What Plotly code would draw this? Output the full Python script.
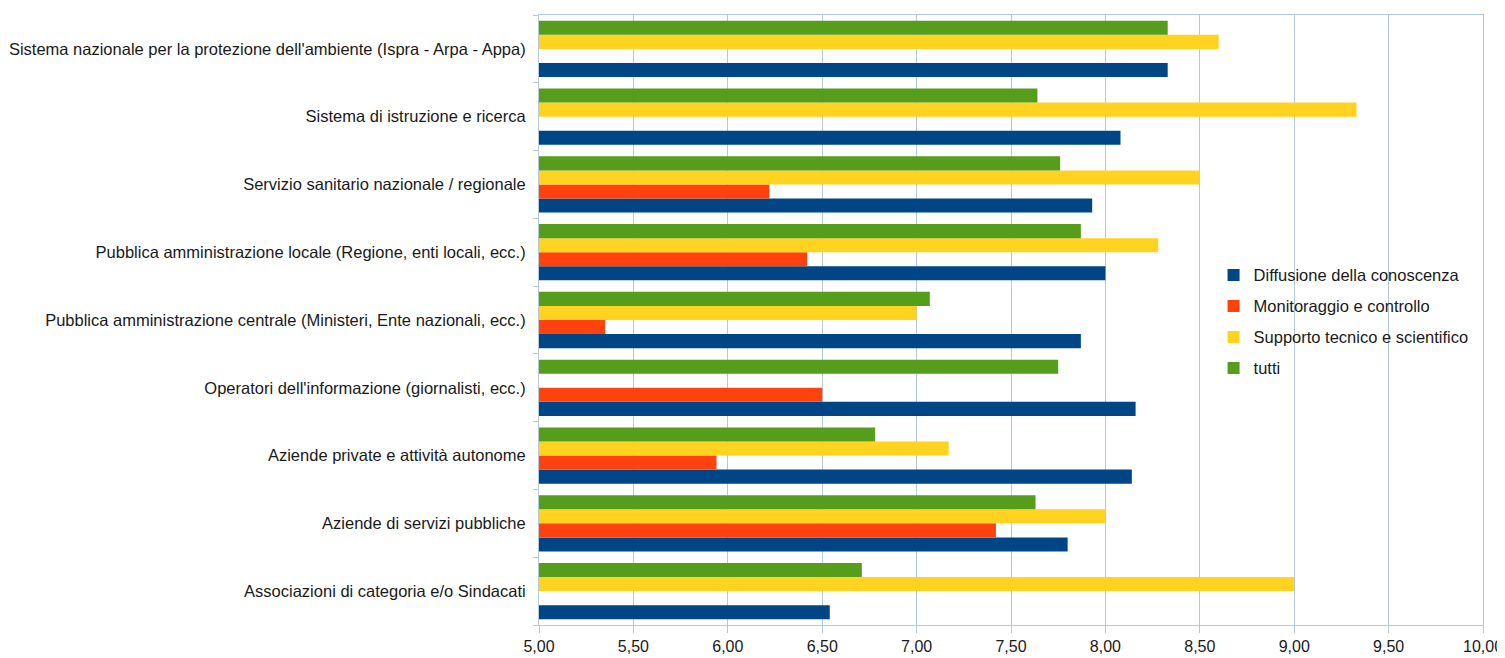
import plotly.graph_objects as go

categories = [
    "Associazioni di categoria e/o Sindacati",
    "Aziende di servizi pubbliche",
    "Aziende private e attività autonome",
    "Operatori dell'informazione (giornalisti, ecc.)",
    "Pubblica amministrazione centrale (Ministeri, Ente nazionali, ecc.)",
    "Pubblica amministrazione locale (Regione, enti locali, ecc.)",
    "Servizio sanitario nazionale / regionale",
    "Sistema di istruzione e ricerca",
    "Sistema nazionale per la protezione dell'ambiente (Ispra - Arpa - Appa)",
]

diffusione = [6.54, 7.80, 8.14, 8.16, 7.87, 8.00, 7.93, 8.08, 8.33]
monitoraggio = [None, 7.42, 5.94, 6.50, 5.35, 6.42, 6.22, None, None]
supporto = [9.00, 8.00, 7.17, None, 7.00, 8.28, 8.50, 9.33, 8.60]
tutti = [6.71, 7.63, 6.78, 7.75, 7.07, 7.87, 7.76, 7.64, 8.33]

series_names = [
    "Diffusione della conoscenza",
    "Monitoraggio e controllo",
    "Supporto tecnico e scientifico",
    "tutti",
]
series_values = [diffusione, monitoraggio, supporto, tutti]
colors = ["#004586", "#ff420e", "#ffd320", "#579d1c"]

tick_vals = [5, 5.5, 6, 6.5, 7, 7.5, 8, 8.5, 9, 9.5, 10]
tick_text = ["5,00", "5,50", "6,00", "6,50", "7,00", "7,50", "8,00", "8,50", "9,00", "9,50", "10,00"]

fig = go.Figure()
for i, (name, vals, col) in enumerate(zip(series_names, series_values, colors)):
    fig.add_trace(go.Bar(
        y=categories,
        x=[(v - 5) if v is not None else None for v in vals],
        base=5,
        name=name,
        legendgroup=f"g{i}",
        orientation="h",
        marker=dict(color=col, line=dict(width=0)),
        hovertext=[f"{v}" if v is not None else "" for v in vals],
    ))

grid_col = "#b4cad8"
text_col = "#1a1a1a"
fig.update_layout(
    width=1497,
    height=650,
    barmode="group",
    bargap=0.17,
    bargroupgap=0,
    plot_bgcolor="white",
    paper_bgcolor="white",
    margin=dict(l=531, r=22, t=7, b=33),
    font=dict(family="Liberation Sans, Arial, sans-serif", size=16.5, color=text_col),
    legend=dict(
        x=0.99, xanchor="right", y=0.497, yanchor="middle",
        bgcolor="rgba(255,255,255,0)",
        font=dict(size=16.5, color=text_col),
        itemwidth=30,
        tracegroupgap=6.5,
    ),
    xaxis=dict(
        range=[5, 10],
        tickvals=tick_vals,
        ticktext=tick_text,
        showgrid=True,
        gridcolor=grid_col,
        gridwidth=1,
        showline=True,
        linecolor=grid_col,
        mirror=True,
        ticks="outside",
        ticklen=7,
        tickcolor=grid_col,
        tickfont=dict(family="Liberation Sans, Arial", size=16, color=text_col),
        ticklabeloverflow="allow",
        zeroline=False,
        automargin=False,
        fixedrange=True,
    ),
    yaxis=dict(
        categoryorder="array",
        categoryarray=categories,
        showline=True,
        linecolor=grid_col,
        mirror=True,
        ticks="outside",
        tickson="boundaries",
        ticklen=5,
        tickcolor=grid_col,
        ticklabelstandoff=9,
        showgrid=False,
        tickfont=dict(size=16.5, color=text_col),
        automargin=False,
        fixedrange=True,
    ),
)

fig.write_html("out.html")
